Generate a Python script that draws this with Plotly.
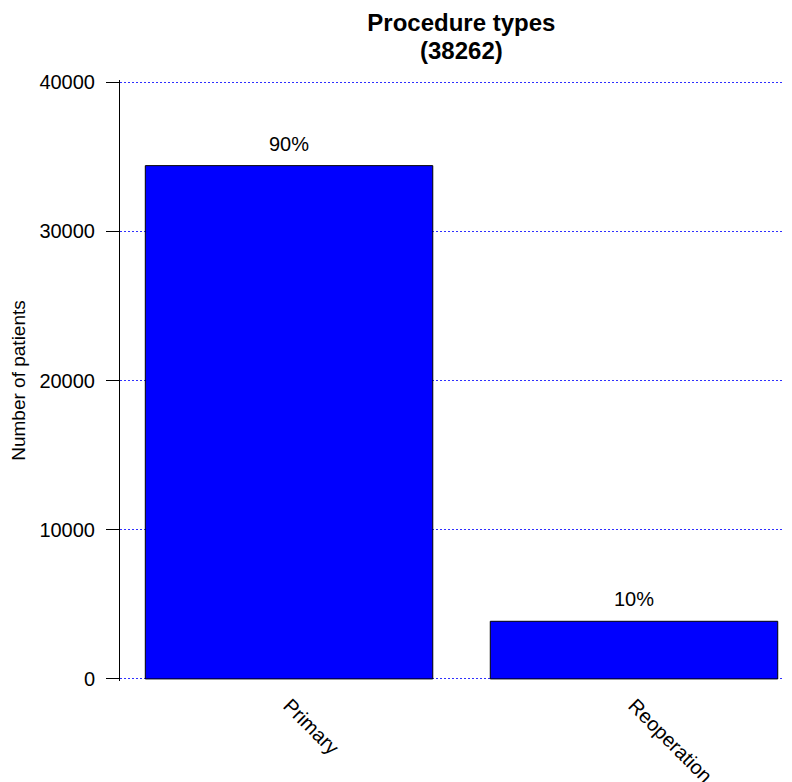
import plotly.graph_objects as go

# data
procedures = ["Primary", "Reoperation"]
patients = [34400, 3862]
y_ticks = [0, 10000, 20000, 30000, 40000]

FONT = "Liberation Sans, Arial, Helvetica, sans-serif"
BLUE = "#0000ff"
GRID = "#2f2fff"

total = sum(patients)
pct = [f"{round(v / total * 100)}%" for v in patients]

fig = go.Figure(go.Bar(
    x=procedures, y=patients,
    marker=dict(color=BLUE, line=dict(color="#000000", width=1)),
    hoverinfo="x+y",
))

# percentage labels just above each bar
for name, v, p in zip(procedures, patients, pct):
    fig.add_annotation(
        x=name, y=v, text=p, showarrow=False,
        yanchor="bottom", yshift=9,
        font=dict(family=FONT, size=20, color="#000000"),
    )

# second title line with total
fig.add_annotation(
    text=f"<b>({total})</b>", xref="paper", yref="paper",
    x=0.508, y=1, yshift=14, xanchor="center", yanchor="bottom",
    showarrow=False, font=dict(family=FONT, size=24, color="#000000"),
)

# page body has an 8px margin, so the figure is sized/offset to compensate
fig.update_layout(
    width=784, height=774,
    margin=dict(l=112, r=0, t=72, b=101),
    paper_bgcolor="white", plot_bgcolor="white",
    font=dict(family=FONT, size=20, color="#000000"),
    showlegend=False,
    bargap=0.1667,
    title=dict(
        text="<b>Procedure types</b>",
        xref="paper", x=0.508, xanchor="center",
        yref="container", y=1 - 6 / 774, yanchor="top",
        font=dict(family=FONT, size=24, color="#000000"),
    ),
    xaxis=dict(
        type="category", range=[-0.49, 1.458], automargin=False,
        showline=False, showgrid=False, zeroline=False,
        ticks="", tickangle=45, ticklabelstandoff=8,
        tickfont=dict(family=FONT, size=20, color="#000000"),
    ),
    yaxis=dict(
        range=[-140, 40140], tickvals=y_ticks, tickformat="d",
        automargin=False,
        showline=True, linecolor="#000000", linewidth=1,
        ticks="outside", ticklen=13, tickcolor="#000000", tickwidth=1,
        ticklabelstandoff=7,
        showgrid=True, gridcolor=GRID, griddash="2px,2px", gridwidth=1,
        zeroline=False,
        tickfont=dict(family=FONT, size=20, color="#000000"),
        title=dict(text="Number of patients", standoff=8,
                   font=dict(family=FONT, size=19, color="#000000")),
    ),
)

fig.write_html("out.html")
